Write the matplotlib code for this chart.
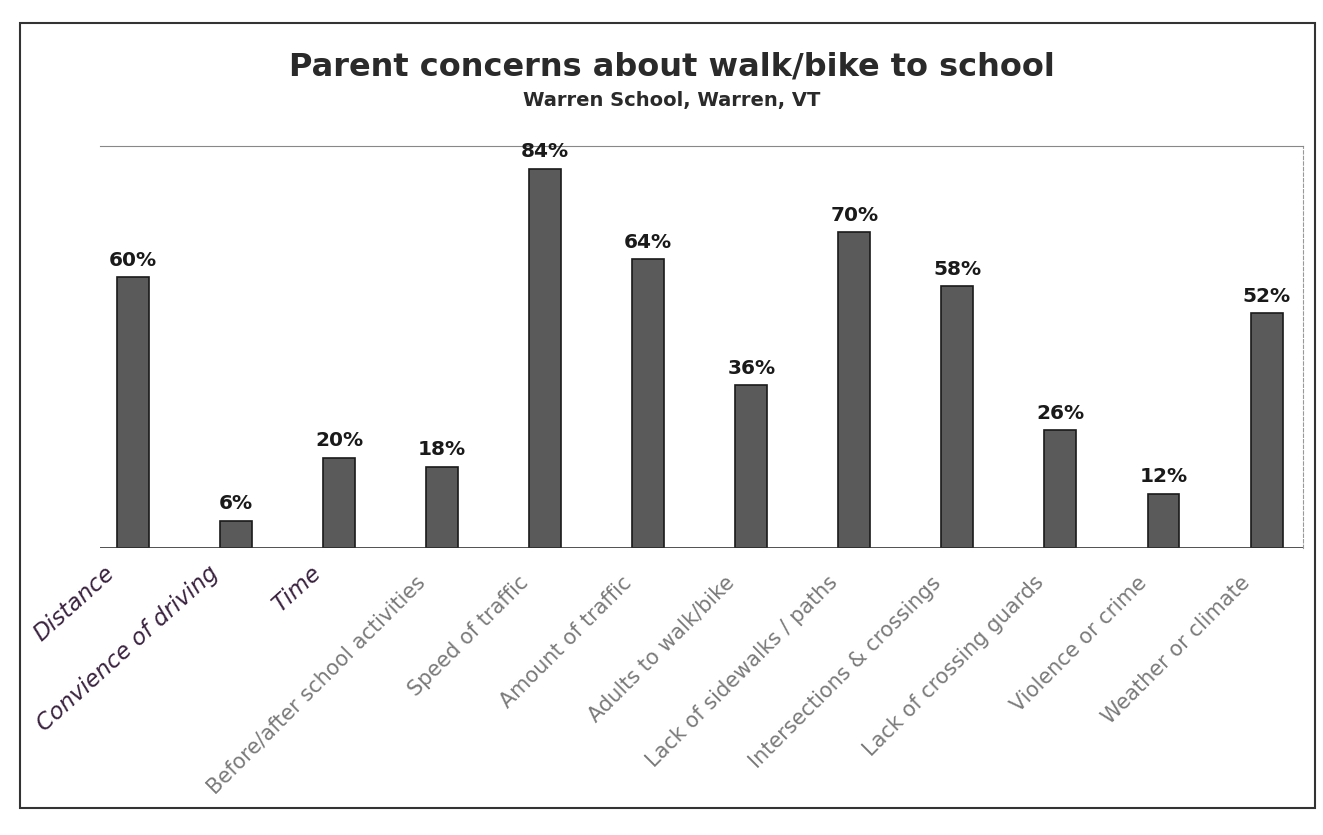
import numpy as np
import matplotlib.pyplot as plt
from matplotlib.patches import Rectangle

# survey results (share of parents)
concerns = ["Distance", "Convience of driving", "Time",
            "Before/after school activities", "Speed of traffic",
            "Amount of traffic", "Adults to walk/bike",
            "Lack of sidewalks / paths", "Intersections & crossings",
            "Lack of crossing guards", "Violence or crime",
            "Weather or climate"]
shares = [60, 6, 20, 18, 84, 64, 36, 70, 58, 26, 12, 52]
# the first three labels were written in by hand on the printout
handwritten = [True, True, True] + [False] * 9

fig = plt.figure(figsize=(13.23, 8.35), dpi=100)
ax = fig.add_axes([0.0756, 0.344, 0.909, 0.481])

x = np.arange(len(concerns))
ax.bar(x, shares, width=0.31, color="#5a5a5a", edgecolor="#1a1a1a", linewidth=1.2)

for xi, v in zip(x, shares):
    ax.text(xi, v + 1.6, f"{v}%", ha="center", va="bottom",
            fontsize=14.5, fontweight="bold", color="#1a1a1a")

ax.set_xlim(-0.32, len(concerns) - 0.65)
ax.set_ylim(0, 89)
ax.set_yticks([])
ax.set_xticks(x)
ax.set_xticklabels([])
ax.tick_params(axis="x", length=0)

# rotated category labels
for xi, lab, hw in zip(x, concerns, handwritten):
    if hw:
        ax.text(xi - 0.28, -3, lab, rotation=42, ha="right", va="top",
                rotation_mode="anchor", fontsize=16.5, style="italic",
                color="#3b2240")
    else:
        ax.text(xi - 0.26, -5.5, lab, rotation=45, ha="right", va="top",
                rotation_mode="anchor", fontsize=15, color="#7a7a7a")

for side in ["left", "bottom"]:
    ax.spines[side].set_visible(False)
ax.spines["top"].set_color("#888888")
ax.spines["right"].set_color("#999999")
ax.spines["right"].set_linestyle((0, (3, 2)))
ax.axhline(0, color="#333333", linewidth=1.2)

fig.text(0.508, 0.92, "Parent concerns about walk/bike to school",
         ha="center", va="center", fontsize=23, fontweight="bold", color="#2a2a2a")
fig.text(0.508, 0.88, "Warren School, Warren, VT",
         ha="center", va="center", fontsize=14, fontweight="bold", color="#2a2a2a")

# outer frame of the chart box
fig.patches.append(Rectangle((0.015, 0.032), 0.979, 0.94, transform=fig.transFigure,
                             fill=False, edgecolor="#333333", linewidth=1.5))

fig.savefig("out.png", dpi=100)
